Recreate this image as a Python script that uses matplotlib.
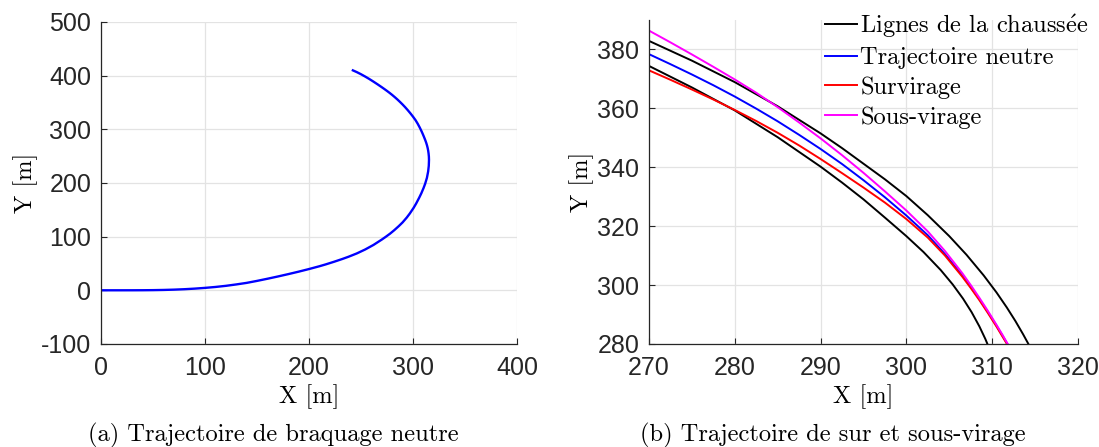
import matplotlib
matplotlib.use("Agg")
import matplotlib.pyplot as plt

plt.rcParams['axes.unicode_minus'] = False
plt.rcParams['mathtext.fontset'] = 'cm'

# trajectoire neutre (braquage neutre), en metres
neutral_x = [0, 20, 30, 40, 50, 60, 70, 80, 90, 100, 110, 120, 130, 140, 150, 160,
             170, 180, 190, 200, 210, 216, 224, 232, 238, 246, 254, 262, 270, 274,
             278, 282, 286.3, 290, 294, 297, 300.6, 303, 306, 308, 310.2, 311.7,
             313.4, 314.6, 315.2, 315.4, 315.3, 315.0, 314.6, 314.1, 313.5, 312.9,
             312.3, 311.75, 311.2, 310.5, 309.5, 308.5, 307.5, 306.5, 304.5, 302.5,
             300, 297.5, 295, 292.5, 290, 287.5, 285, 282.5, 280, 277.5, 275, 272.5,
             270, 266, 262, 258, 254, 250, 246, 242.2]
neutral_y = [0, 0.01, 0.04, 0.12, 0.3, 0.65, 1.2, 2.0, 3.1, 4.5, 6.2, 8.3, 10.9,
             13.8, 17.5, 21.5, 25.7, 30.1, 34.7, 39.6, 44.8, 48.2, 53.1, 58.3, 62.5,
             68.7, 76.0, 84.5, 94.5, 99.9, 105.6, 112.0, 119.5, 126.5, 135.5, 143.2,
             153.6, 161.5, 172.6, 180.6, 190.7, 198.5, 209.5, 221.5, 232, 243, 249.0,
             255.0, 260.4, 265.3, 269.9, 273.8, 277.2, 280.1, 282.8, 286.2, 290.8,
             295.2, 299.3, 303.3, 310.5, 316.9, 323.6, 329.8, 335.6, 341.1, 346.2,
             351.0, 355.6, 359.9, 364.0, 367.85, 371.5, 375.0, 378.4, 383.7, 388.8,
             393.7, 398.3, 402.6, 406.5, 409.8]

# bords de la chaussee
road_in_x = [309.7, 309.2, 308.5, 307.6, 306.6, 305.4, 304, 302, 300, 297.5, 295,
             292.5, 290, 285, 280, 275, 270]
road_in_y = [278.2, 281.7, 286.0, 290.8, 295.4, 300.2, 305.1, 311.2, 316.6, 322.9,
             329.1, 334.8, 340.2, 350.2, 359.3, 367.1, 374.4]
road_out_x = [314.5, 313.6, 312.7, 311.7, 310.5, 309, 307, 305, 302.5, 300, 297.5,
              295, 292.5, 290, 285, 280, 275, 270]
road_out_y = [278.5, 283.3, 287.8, 292.4, 297.5, 303.3, 310.3, 316.6, 323.7, 330.2,
              335.9, 341.2, 346.5, 351.5, 360.7, 368.9, 376.2, 382.9]

# survirage
over_x = [312.2, 311.7, 311.2, 310.5, 309.5, 308.5, 307.5, 306.5, 304.5, 302.5, 300,
          297.5, 295, 292.5, 290, 287.5, 285, 282.5, 280, 277.5, 275, 272.5, 270]
over_y = [277.5, 280.1, 282.5, 285.9, 290.5, 294.9, 299.0, 302.9, 310.0, 316.1, 322.4,
          328.0, 333.1, 338.0, 342.8, 347.4, 351.7, 355.7, 359.45, 363.0, 366.4, 369.7,
          372.9]

# sous-virage
under_x = [312.3, 311.85, 311.2, 310.5, 309.5, 308.5, 307.5, 306.5, 304.5, 302.5, 300,
           297.5, 295, 292.5, 290, 287.5, 285, 282.5, 280, 277.5, 275, 272.5, 270]
under_y = [277.5, 279.8, 283.1, 286.5, 291.2, 295.7, 300.0, 304.1, 311.55, 318.2, 325.3,
           331.8, 338.1, 344.1, 349.8, 355.2, 360.4, 365.3, 369.8, 374.1, 378.3, 382.4,
           386.4]

legend_labels = [r'Lignes de la chauss$\mathrm{\acute{e}}$e', 'Trajectoire neutre',
                 'Survirage', 'Sous-virage']

serif = ['cmr10', 'DejaVu Serif']
tick_font = 'Liberation Sans'
dark = '#262626'

fig = plt.figure(figsize=(10.99, 4.47), dpi=100)
ax1 = fig.add_axes([0.0919, 0.2305, 0.3785, 0.7204])
ax2 = fig.add_axes([0.5905, 0.2305, 0.3904, 0.7248])


def style(ax):
    ax.grid(True, color='#e3e3e3', linewidth=0.9)
    ax.set_axisbelow(True)
    for side in ('top', 'right'):
        ax.spines[side].set_visible(False)
    for side in ('left', 'bottom'):
        ax.spines[side].set_color(dark)
        ax.spines[side].set_linewidth(0.9)
    ax.tick_params(direction='in', length=4, width=0.8, color=dark,
                   labelcolor=dark, labelsize=18)
    ax.tick_params(axis='x', pad=9)
    ax.tick_params(axis='y', pad=7)
    for lab in ax.get_xticklabels() + ax.get_yticklabels():
        lab.set_fontfamily(tick_font)
    ax.set_xlabel('X [m]', fontfamily=serif, fontsize=17.6, labelpad=3)
    ax.set_ylabel('Y [m]', fontfamily=serif, fontsize=17.6, labelpad=2)


# (a) trajectoire complete
ax1.plot(neutral_x, neutral_y, color='blue', linewidth=1.7)
ax1.set_xlim(0, 400)
ax1.set_ylim(-100, 500)
ax1.set_xticks(range(0, 401, 100))
ax1.set_yticks(range(-100, 501, 100))
style(ax1)

# (b) zoom sur la sortie du virage
l1, = ax2.plot(road_in_x, road_in_y, color='black', linewidth=1.4)
ax2.plot(road_out_x, road_out_y, color='black', linewidth=1.4)
l2, = ax2.plot(neutral_x, neutral_y, color='blue', linewidth=1.4)
l3, = ax2.plot(over_x, over_y, color='red', linewidth=1.4)
l4, = ax2.plot(under_x, under_y, color='magenta', linewidth=1.4)
ax2.set_xlim(270, 320)
ax2.set_ylim(280, 390)
ax2.set_xticks(range(270, 321, 10))
ax2.set_yticks(range(280, 381, 20))
style(ax2)

ax2.legend([l1, l2, l3, l4], legend_labels, loc='upper left',
           bbox_to_anchor=(825 / 1099, 1 - 12 / 447), bbox_transform=fig.transFigure,
           frameon=False, prop={'family': serif, 'size': 17.6},
           handlelength=1.3, handletextpad=0.15, labelspacing=0.3,
           borderaxespad=0, borderpad=0)

fig.text(273 / 1099, 1 - 435 / 447, '(a) Trajectoire de braquage neutre',
         fontfamily=serif, fontsize=17.6, ha='center', va='center')
fig.text(833 / 1099, 1 - 435 / 447, '(b) Trajectoire de sur et sous-virage',
         fontfamily=serif, fontsize=17.6, ha='center', va='center')

fig.savefig('out.png', dpi=100)
